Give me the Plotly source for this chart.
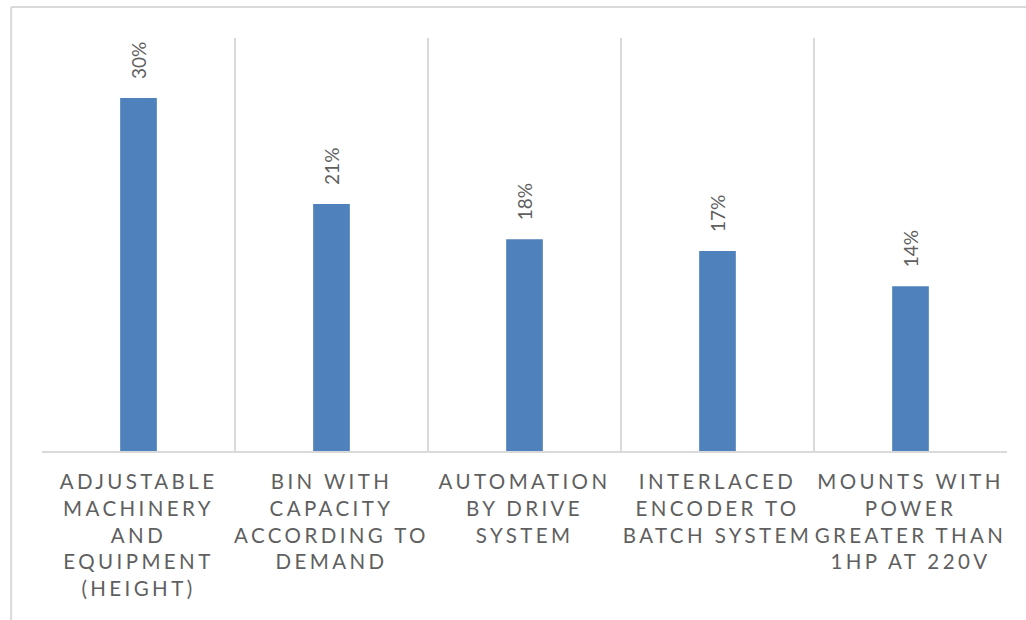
import plotly.graph_objects as go

# Category labels (line breaks as on the axis) and their shares
categories = [
    "ADJUSTABLE<br>MACHINERY<br>AND<br>EQUIPMENT<br>(HEIGHT)",
    "BIN WITH<br>CAPACITY<br>ACCORDING TO<br>DEMAND",
    "AUTOMATION<br>BY DRIVE<br>SYSTEM",
    "INTERLACED<br>ENCODER TO<br>BATCH SYSTEM",
    "MOUNTS WITH<br>POWER<br>GREATER THAN<br>1HP AT 220V",
]
shares = [0.30, 0.21, 0.18, 0.17, 0.14]

BAR_COLOR = "#4F81BD"
TEXT_COLOR = "#5F5F5F"
GRID_COLOR = "#D9D9D9"
FONT = "Lato"

fig = go.Figure(
    go.Bar(
        x=categories,
        y=shares,
        marker=dict(color=BAR_COLOR, line=dict(width=0)),
        width=0.19,
        hoverinfo="skip",
    )
)

# Rotated value labels above each bar
for cat, val in zip(categories, shares):
    fig.add_annotation(
        x=cat, y=val, xref="x", yref="y",
        text=f"{val:.0%}",
        textangle=-90,
        showarrow=False,
        xanchor="center", yanchor="bottom",
        yshift=17,
        font=dict(family=FONT, size=19, color=TEXT_COLOR),
    )

# Outer chart-area frame (top and left edges)
frame = dict(color=GRID_COLOR, width=2)
fig.add_shape(type="line", xref="paper", yref="paper",
              x0=-0.032, x1=1.05, y0=1.075, y1=1.075, line=frame)
fig.add_shape(type="line", xref="paper", yref="paper",
              x0=-0.032, x1=-0.032, y0=-0.6, y1=1.075, line=frame)

fig.update_layout(
    width=1026, height=620,
    margin=dict(l=42, r=19, t=38, b=169),
    paper_bgcolor="white",
    plot_bgcolor="white",
    showlegend=False,
    bargap=0.81,
    font=dict(family=FONT, size=20, color=TEXT_COLOR),
    xaxis=dict(
        type="category",
        tickson="boundaries",
        showgrid=True,
        gridcolor=GRID_COLOR,
        gridwidth=1.5,
        ticks="",
        showline=True,
        linecolor=GRID_COLOR,
        linewidth=1.5,
        tickfont=dict(family=FONT, size=20.5, color=TEXT_COLOR),
        tickangle=0,
        ticklabelstandoff=12,
        fixedrange=True,
    ),
    yaxis=dict(
        range=[0, 0.351],
        showgrid=False,
        zeroline=False,
        showticklabels=False,
        ticks="",
        fixedrange=True,
    ),
)

# Wide letter spacing on the category labels
spacing_js = """
document.querySelectorAll('.xtick text').forEach(function(t){
    t.style.letterSpacing = '3.4px';
});
"""

fig.write_html("out.html", post_script=spacing_js)
